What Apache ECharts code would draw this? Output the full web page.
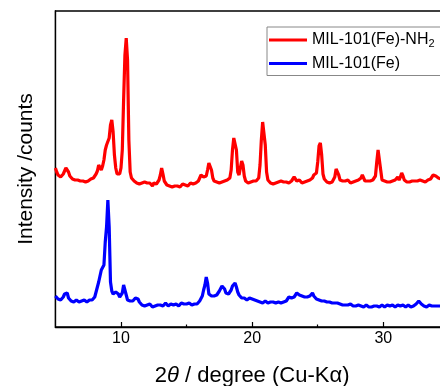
<!DOCTYPE html>
<html>
<head>
<meta charset="utf-8">
<script src="https://cdn.jsdelivr.net/npm/echarts@6/dist/echarts.min.js"></script>
<style>html,body{margin:0;padding:0;background:#fff}#c{width:440px;height:386px}</style>
</head>
<body>
<div id="c"></div>
<script>
// 2θ sampling (degrees)
const twoTheta = [
5.0,5.1,5.2,5.3,5.4,5.5,5.6,5.7,5.8,5.9,
6.0,6.1,6.2,6.3,6.4,6.5,6.6,6.7,6.8,6.9,
7.0,7.1,7.2,7.3,7.4,7.5,7.6,7.7,7.8,7.9,
8.0,8.1,8.2,8.3,8.4,8.5,8.6,8.7,8.8,8.9,
9.0,9.1,9.2,9.3,9.4,9.5,9.6,9.7,9.8,9.9,
10.0,10.1,10.2,10.3,10.4,10.5,10.6,10.7,10.8,10.9,
11.0,11.1,11.2,11.3,11.4,11.5,11.6,11.7,11.8,11.9,
12.0,12.1,12.2,12.3,12.4,12.5,12.6,12.7,12.8,12.9,
13.0,13.1,13.2,13.3,13.4,13.5,13.6,13.7,13.8,13.9,
14.0,14.1,14.2,14.3,14.4,14.5,14.6,14.7,14.8,14.9,
15.0,15.1,15.2,15.3,15.4,15.5,15.6,15.7,15.8,15.9,
16.0,16.1,16.2,16.3,16.4,16.5,16.6,16.7,16.8,16.9,
17.0,17.1,17.2,17.3,17.4,17.5,17.6,17.7,17.8,17.9,
18.0,18.1,18.2,18.3,18.4,18.5,18.6,18.7,18.8,18.9,
19.0,19.1,19.2,19.3,19.4,19.5,19.6,19.7,19.8,19.9,
20.0,20.1,20.2,20.3,20.4,20.5,20.6,20.7,20.8,20.9,
21.0,21.1,21.2,21.3,21.4,21.5,21.6,21.7,21.8,21.9,
22.0,22.1,22.2,22.3,22.4,22.5,22.6,22.7,22.8,22.9,
23.0,23.1,23.2,23.3,23.4,23.5,23.6,23.7,23.8,23.9,
24.0,24.1,24.2,24.3,24.4,24.5,24.6,24.7,24.8,24.9,
25.0,25.1,25.2,25.3,25.4,25.5,25.6,25.7,25.8,25.9,
26.0,26.1,26.2,26.3,26.4,26.5,26.6,26.7,26.8,26.9,
27.0,27.1,27.2,27.3,27.4,27.5,27.6,27.7,27.8,27.9,
28.0,28.1,28.2,28.3,28.4,28.5,28.6,28.7,28.8,28.9,
29.0,29.1,29.2,29.3,29.4,29.5,29.6,29.7,29.8,29.9,
30.0,30.1,30.2,30.3,30.4,30.5,30.6,30.7,30.8,30.9,
31.0,31.1,31.2,31.3,31.4,31.5,31.6,31.7,31.8,31.9,
32.0,32.1,32.2,32.3,32.4,32.5,32.6,32.7,32.8,32.9,
33.0,33.1,33.2,33.3,33.4,33.5,33.6,33.7,33.8,33.9,
34.0,34.1,34.2,34.3,34.4
];

// MIL-101(Fe)-NH2 intensity (offset trace, arbitrary counts)
const amineIntensity = [
159,155,152,151,150,151,153,156,159,160,
155,151,149,148,149,147,146,147,145,146,
145,146,144,145,145,146,147,148,150,149,
151,153,156,162,164,157,161,167,177,182,
181,189,202,207,195,172,159,153,151,153,
159,177,227,272,289,267,187,155,149,147,
146,145,144,146,143,145,144,142,145,143,
144,142,144,143,141,144,142,143,145,147,
152,159,153,146,144,142,143,141,142,140,
142,141,143,141,142,140,142,143,141,142,
143,141,142,144,142,143,145,144,146,146,
149,152,154,150,149,151,157,164,165,157,
149,146,147,145,146,144,146,145,147,146,
145,147,146,149,157,177,189,191,177,155,
152,159,166,162,151,146,145,144,146,145,
144,146,145,146,147,149,162,187,205,206,
182,155,147,145,144,146,143,145,144,146,
145,143,146,144,145,143,145,146,144,145,
146,148,150,148,146,145,147,146,144,146,
145,147,146,148,147,146,149,152,151,154,
165,181,184,172,153,148,146,145,146,144,
146,145,147,150,158,160,152,147,145,146,
144,146,145,147,145,144,146,145,147,146,
145,147,146,149,152,149,146,145,146,144,
146,145,147,146,151,165,177,175,157,147,
145,146,144,145,146,145,144,146,145,147,
149,150,147,150,154,151,147,146,145,146,
145,147,146,145,146,148,146,145,147,146,
146,147,145,146,147,146,148,150,152,152,
151,150,149,149,148
];

// MIL-101(Fe) intensity (arbitrary counts)
const parentIntensity = [
31,30,28,29,27,28,30,33,35,34,
29,27,26,27,25,26,27,26,25,27,
26,25,27,26,25,26,27,26,27,28,
30,35,40,45,51,57,59,62,85,100,
127,100,45,36,33,31,35,37,33,30,
28,34,42,43,32,27,25,26,27,26,
27,29,30,28,25,23,22,23,21,22,
22,21,23,22,20,22,21,23,22,21,
22,23,21,22,24,22,21,22,23,21,
22,21,23,22,21,22,24,22,23,22,
23,22,24,23,22,24,23,24,23,25,
26,27,31,37,42,50,44,33,32,31,
32,31,33,32,34,36,38,41,42,38,
34,32,33,35,37,41,43,44,40,35,
32,30,29,28,29,28,27,28,29,27,
28,26,27,25,26,24,25,26,24,25,
26,25,24,26,25,24,25,26,24,25,
25,26,24,26,25,27,26,28,30,29,
29,28,30,32,34,33,32,30,31,29,
30,31,30,32,31,33,34,31,29,28,
28,27,28,26,27,26,27,25,26,25,
25,24,26,24,23,24,25,23,24,22,
23,22,24,22,21,23,22,21,22,21,
21,22,20,21,22,20,21,22,21,20,
21,20,22,21,20,21,22,20,21,22,
21,20,21,22,20,21,20,22,21,20,
21,22,20,21,20,22,21,20,21,22,
21,20,22,21,20,23,25,26,25,23,
22,21,22,20,21,22,20,21,20,21,
20,21,20,21,21
];

const seriesNames = ['MIL-101(Fe)-NH2', 'MIL-101(Fe)'];
const majorTicks = [10, 20, 30];
const minorTicks = [15, 25];

const FONT = '"Liberation Sans", Arial, sans-serif';
const chart = echarts.init(document.getElementById('c'), null, {renderer: 'canvas'});

function pairs(xs, ys) { return xs.map((x, i) => [x, ys[i]]); }

chart.setOption({
  animation: false,
  backgroundColor: '#fff',
  textStyle: {fontFamily: FONT},
  grid: {left: 55.4, top: 11, width: 393.5, height: 316, show: true,
         outerBoundsMode: 'none', containLabel: false,
         borderColor: '#000', borderWidth: 1.3, backgroundColor: 'transparent'},
  legend: {
    orient: 'vertical', left: 267, top: 27,
    padding: [4, 60, 3, 2],
    borderColor: '#888', borderWidth: 1, backgroundColor: '#fff',
    icon: 'rect', itemWidth: 38, itemHeight: 3.2, itemGap: 5,
    data: seriesNames,
    formatter: n => n === 'MIL-101(Fe)-NH2' ? 'MIL-101(Fe)-NH{sub|2}' : n,
    textStyle: {fontSize: 16, color: '#000', fontFamily: FONT, lineHeight: 18,
      rich: {sub: {fontSize: 11, fontFamily: FONT, color: '#000', padding: [8, 0, 0, 0]}}}
  },
  xAxis: [{
    type: 'value', min: 5, max: 35,
    axisLine: {show: true, lineStyle: {color: '#000', width: 1.3}},
    axisTick: {show: true, inside: true, length: 5, customValues: majorTicks, lineStyle: {color: '#000', width: 1.2}},
    axisLabel: {show: true, customValues: majorTicks, fontSize: 16, color: '#000', margin: 4, fontFamily: FONT},
    splitLine: {show: false},
    name: '2{i|θ} / degree (Cu-Kα)', nameLocation: 'middle', nameGap: 38,
    nameTextStyle: {fontSize: 22, color: '#000', fontFamily: FONT,
      rich: {i: {fontSize: 22, fontStyle: 'italic', fontFamily: FONT, color: '#000'}}}
  }, {
    type: 'value', min: 5, max: 35, position: 'bottom',
    axisLine: {show: false},
    axisTick: {show: true, inside: true, length: 2.5, customValues: minorTicks, lineStyle: {color: '#000', width: 1.2}},
    axisLabel: {show: false}, splitLine: {show: false}
  }],
  yAxis: {
    type: 'value', min: 0, max: 316,
    axisLine: {show: true, lineStyle: {color: '#000', width: 1.3}},
    axisTick: {show: false}, axisLabel: {show: false}, splitLine: {show: false},
    name: 'Intensity /counts', nameLocation: 'middle', nameGap: 19,
    nameTextStyle: {fontSize: 21, color: '#000', fontFamily: FONT}
  },
  series: [{
    name: seriesNames[0], type: 'line', showSymbol: false, symbol: 'none',
    data: pairs(twoTheta, amineIntensity),
    lineStyle: {color: '#ff0000', width: 3.2}, itemStyle: {color: '#ff0000'}
  }, {
    name: seriesNames[1], type: 'line', showSymbol: false, symbol: 'none',
    data: pairs(twoTheta, parentIntensity),
    lineStyle: {color: '#0000ff', width: 3.2}, itemStyle: {color: '#0000ff'}
  }]
});
</script>
</body>
</html>
